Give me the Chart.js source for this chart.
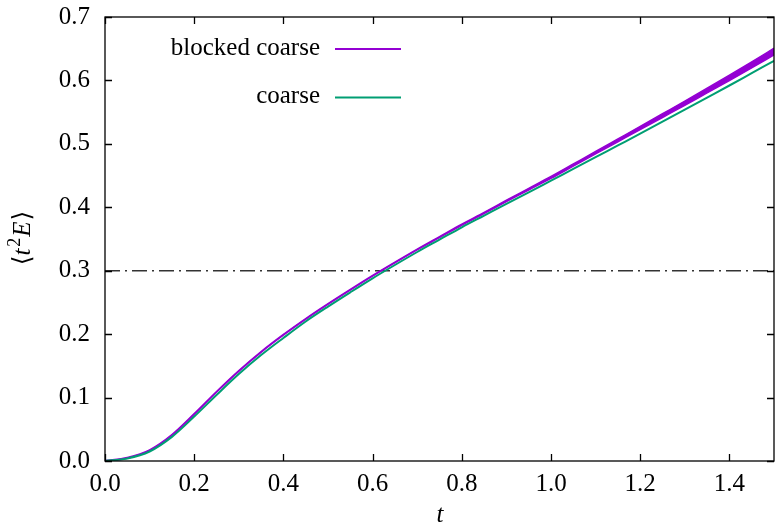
<!DOCTYPE html>
<html>
<head>
<meta charset="utf-8">
<script src="https://cdn.jsdelivr.net/npm/chart.js@4.4.1/dist/chart.umd.min.js"></script>
<style>
html,body{margin:0;padding:0;background:#fff;}
#wrap{width:775px;height:530px;position:relative;}
</style>
</head>
<body>
<div id="wrap"><canvas id="c" width="775" height="530"></canvas></div>
<script>
// ---- data ----
const tValues = [0,0.05,0.1,0.15,0.2,0.25,0.3,0.35,0.4,0.45,0.5,0.55,0.6,0.65,0.7,0.75,0.8,0.85,0.9,0.95,1.0,1.05,1.1,1.15,1.2,1.25,1.3,1.35,1.4,1.45,1.5];
const blockedCoarseMean = [0,0.005,0.017,0.041,0.074,0.109,0.142,0.172,0.199,0.224,0.2475,0.270,0.292,0.313,0.3335,0.353,0.3725,0.391,0.410,0.4285,0.447,0.4665,0.486,0.5055,0.525,0.5445,0.564,0.584,0.604,0.6245,0.6455];
const blockedCoarseErr  = [0.0007,0.0007,0.0007,0.0007,0.0007,0.0007,0.0007,0.0007,0.0007,0.0007,0.0007,0.0007,0.0007,0.0007,0.0007,0.0009,0.0010,0.0011,0.0012,0.0014,0.0016,0.0018,0.0020,0.0023,0.0026,0.0030,0.0034,0.0038,0.0043,0.0048,0.0053];
const coarse = [0,0.004,0.015,0.038,0.070,0.104,0.137,0.167,0.194,0.220,0.2435,0.266,0.288,0.309,0.3295,0.349,0.3685,0.387,0.4055,0.4235,0.442,0.4605,0.479,0.4975,0.516,0.535,0.554,0.573,0.592,0.6115,0.631];
const referenceLevel = 0.3;
const xTickValues = [0,0.2,0.4,0.6,0.8,1.0,1.2,1.4];
const yTickValues = [0,0.1,0.2,0.3,0.4,0.5,0.6,0.7];
const seriesNames = ['blocked coarse','coarse'];

const PURPLE = '#9400d3';
const GREEN = '#009e73';
const FONT = '"Liberation Serif", "DejaVu Serif", serif';
const FS = 25;

const pts = (ys) => tValues.map((t,i)=>({x:t,y:ys[i]}));
const upper = blockedCoarseMean.map((m,i)=>m+blockedCoarseErr[i]);
const lower = blockedCoarseMean.map((m,i)=>m-blockedCoarseErr[i]);

const framePlugin = {
  id:'frame',
  afterDraw(chart){
    const ctx = chart.ctx, a = chart.chartArea;
    const xs = chart.scales.x, ys = chart.scales.y;
    ctx.save();
    ctx.strokeStyle = '#000';
    ctx.lineWidth = 1.3;
    ctx.beginPath();
    const L = 7;
    xTickValues.forEach(v=>{
      const px = Math.round(xs.getPixelForValue(v))+0.5;
      ctx.moveTo(px,a.bottom); ctx.lineTo(px,a.bottom-L);
      ctx.moveTo(px,a.top); ctx.lineTo(px,a.top+L);
    });
    yTickValues.forEach(v=>{
      const py = Math.round(ys.getPixelForValue(v))+0.5;
      ctx.moveTo(a.left,py); ctx.lineTo(a.left+L,py);
      ctx.moveTo(a.right,py); ctx.lineTo(a.right-L,py);
    });
    ctx.stroke();
    ctx.strokeRect(a.left, a.top, a.right-a.left, a.bottom-a.top);

    // legend
    ctx.fillStyle = '#000';
    ctx.font = FS+'px '+FONT;
    ctx.textAlign = 'right';
    ctx.textBaseline = 'alphabetic';
    ctx.fillText(seriesNames[0], 320, 55);
    ctx.fillText(seriesNames[1], 320, 103);
    ctx.lineWidth = 2;
    ctx.strokeStyle = PURPLE;
    ctx.beginPath(); ctx.moveTo(335,49); ctx.lineTo(401,49); ctx.stroke();
    ctx.strokeStyle = GREEN;
    ctx.beginPath(); ctx.moveTo(335,97.5); ctx.lineTo(401,97.5); ctx.stroke();

    // x title
    ctx.textAlign = 'center';
    ctx.font = 'italic '+FS+'px '+FONT;
    ctx.fillText('t', 440, 522);

    // y title  ⟨t²E⟩
    ctx.translate(30, 238);
    ctx.rotate(-Math.PI/2);
    const parts = [
      {s:'\u27E8', f:FS+'px "DejaVu Serif", serif', dy:0, gap:0},
      {s:'t', f:'italic '+FS+'px '+FONT, dy:0, gap:2},
      {s:'2', f:Math.round(FS*0.7)+'px '+FONT, dy:-10, gap:1},
      {s:'E', f:'italic '+FS+'px '+FONT, dy:0, gap:1},
      {s:'\u27E9', f:FS+'px "DejaVu Serif", serif', dy:0, gap:0}
    ];
    let tw = 0;
    parts.forEach(p=>{ctx.font=p.f; p.w=ctx.measureText(p.s).width; tw+=p.w+p.gap;});
    let x = -tw/2;
    ctx.textAlign='left';
    parts.forEach(p=>{ctx.font=p.f; ctx.fillText(p.s, x, p.dy); x+=p.w+p.gap;});
    ctx.restore();
  }
};

new Chart(document.getElementById('c'), {
  type:'line',
  data:{
    datasets:[
      {label:seriesNames[1], data:pts(coarse), borderColor:GREEN, borderWidth:2, pointRadius:0, fill:false, cubicInterpolationMode:'monotone', order:0},
      {label:seriesNames[0]+' hi', data:pts(upper), borderColor:PURPLE, borderWidth:1.4, pointRadius:0, fill:false, cubicInterpolationMode:'monotone', order:1},
      {label:seriesNames[0]+' lo', data:pts(lower), borderColor:PURPLE, backgroundColor:PURPLE, borderWidth:1.4, pointRadius:0, fill:'-1', cubicInterpolationMode:'monotone', order:1},
      {label:'ref', data:[{x:0,y:referenceLevel},{x:1.5,y:referenceLevel}], borderColor:'#333', borderWidth:1.4, borderDash:[15,5,2,5], pointRadius:0, fill:false, order:2}
    ]
  },
  options:{
    responsive:false,
    animation:false,
    layout:{padding:{top:17, right:1, left:0, bottom:0}},
    plugins:{legend:{display:false}, tooltip:{enabled:false}},
    scales:{
      x:{
        type:'linear', min:0, max:1.5,
        grid:{display:false, drawTicks:false},
        border:{display:false},
        afterBuildTicks:(s)=>{s.ticks = xTickValues.map(v=>({value:v}));},
        afterFit:(s)=>{s.height = 69; s.paddingLeft = 0; s.paddingRight = 0; s.paddingTop = 0; s.paddingBottom = 0;},
        ticks:{padding:8, color:'#000', font:{family:FONT, size:FS}, callback:(v)=>Number(v).toFixed(1), maxRotation:0, autoSkip:false}
      },
      y:{
        type:'linear', min:0, max:0.7,
        grid:{display:false, drawTicks:false},
        border:{display:false},
        afterBuildTicks:(s)=>{s.ticks = yTickValues.map(v=>({value:v}));},
        afterFit:(s)=>{s.width = 105; s.paddingTop = 0; s.paddingBottom = 0; s.paddingLeft = 0; s.paddingRight = 0;},
        ticks:{padding:15, color:'#000', font:{family:FONT, size:FS}, callback:(v)=>Number(v).toFixed(1), autoSkip:false}
      }
    }
  },
  plugins:[framePlugin]
});
</script>
</body>
</html>
